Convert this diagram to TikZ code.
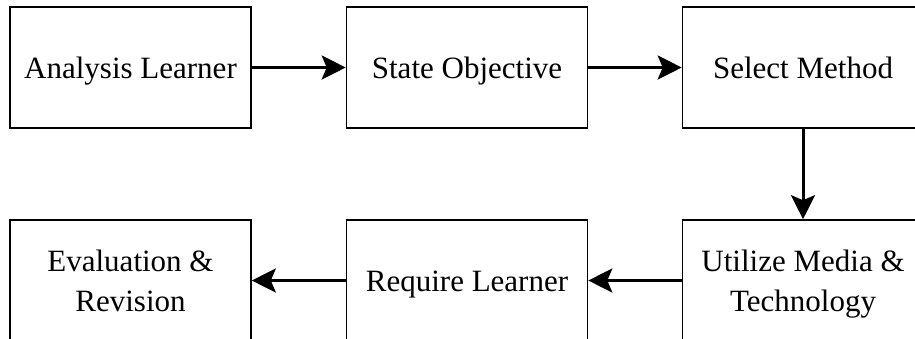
\documentclass[tikz,border=0pt]{standalone}
\usepackage{fontspec}
\setmainfont{Liberation Serif}
\usetikzlibrary{arrows.meta}
\newcommand{\lnstrut}{\rule[-7pt]{0pt}{35pt}}
\begin{document}
\begin{tikzpicture}[x=1pt,y=-1pt,
  stepbox/.style={draw=black, line width=1.6pt, fill=white, minimum width=241pt, minimum height=121pt, inner sep=0pt, align=center, font=\fontsize{31}{40}\selectfont},
  flow/.style={line width=3pt, -{Stealth[length=24pt,width=24pt,inset=5pt]}}]
\clip (0,0) rectangle (915,338);
\fill[white] (0,0) rectangle (915,338);
\node[stepbox] (a) at (130.5,67.5) {\lnstrut Analysis Learner};
\node[stepbox] (b) at (467,67.5) {\lnstrut State Objective};
\node[stepbox] (c) at (803,67.5) {\lnstrut Select Method};
\node[stepbox] (d) at (803,280.5) {\lnstrut Utilize Media \&\\\lnstrut Technology};
\node[stepbox] (e) at (467,280.5) {\lnstrut Require Learner};
\node[stepbox] (f) at (130.5,280.5) {\lnstrut Evaluation \&\\\lnstrut Revision};
\draw[flow] (a) -- (b);
\draw[flow] (b) -- (c);
\draw[flow] (c) -- (d);
\draw[flow] (d) -- (e);
\draw[flow] (e) -- (f);
\end{tikzpicture}
\end{document}
